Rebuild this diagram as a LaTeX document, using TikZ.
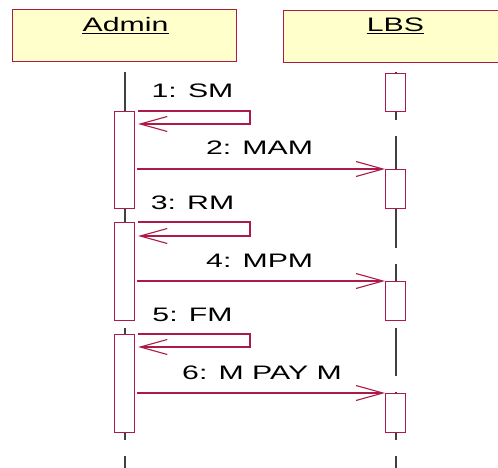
\documentclass[tikz,border=0pt]{standalone}
\usepackage{fontspec}
\setmainfont{Liberation Sans}
\usepackage{graphicx}
\usetikzlibrary{arrows.meta}
\definecolor{uml}{RGB}{172,26,72}
\definecolor{hdr}{RGB}{255,255,204}
\definecolor{life}{RGB}{64,64,64}
\newcommand\wtext[1]{\scalebox{1.55}[1]{#1}}
\begin{document}
\begin{tikzpicture}[x=1pt,y=-1pt,
  lbl/.style={font=\fontsize{19.5}{20}\selectfont, inner sep=0pt, anchor=base},
  hbox/.style={draw=uml, fill=hdr, line width=1.2pt, inner sep=0pt, anchor=north west},
  act/.style={draw=uml, fill=white, line width=1.2pt, inner sep=0pt, anchor=north west, minimum width=20pt},
  msg/.style={draw=uml, line width=1.1pt, -{Straight Barb[length=27pt,width=15pt,line width=1.1pt]}},
  lifeline/.style={draw=life, line width=1.3pt, dash pattern=on 48pt off 16pt},
  uline/.style={draw=black, line width=1pt}]
\useasboundingbox (0,0) rectangle (498,468);
\clip (0,0) rectangle (498,468);
% header boxes
\node[hbox, minimum width=224pt, minimum height=52pt] (admin) at (12,9) {};
\node[hbox, minimum width=222pt, minimum height=52pt] (lbs) at (283,10) {};
\node[lbl] (admint) at (125.5,32) {\wtext{Admin}};
\node[lbl] (lbst) at (395.5,32) {\wtext{LBS}};
\draw[uline] ([yshift=-1.6pt]admint.base west) -- ([yshift=-1.6pt]admint.base east);
\draw[uline] ([yshift=-1.6pt]lbst.base west) -- ([yshift=-1.6pt]lbst.base east);
% lifelines
\coordinate (adtop) at (125,72);
\coordinate (adbot) at (125,468);
\coordinate (lbtop) at (396,72);
\coordinate (lbbot) at (396,468);
\draw[lifeline] (adtop) -- (adbot);
\draw[lifeline] (lbtop) -- (lbbot);
% activation boxes
\node[act, minimum height=97pt] (a1) at (114,111) {};
\node[act, minimum height=98pt] (a2) at (114,222) {};
\node[act, minimum height=98pt] (a3) at (114,334) {};
\node[act, minimum height=38pt] (l1) at (385,73) {};
\node[act, minimum height=39pt] (l2) at (385,169) {};
\node[act, minimum height=39pt] (l3) at (385,281) {};
\node[act, minimum height=39pt] (l4) at (385,393) {};
% self messages
\coordinate (s1) at (250,124);
\coordinate (s2) at (250,236);
\coordinate (s3) at (250,347);
\draw[msg] ([xshift=3pt]a1.north east) -| (s1) -- ([xshift=3pt]a1.east |- s1);
\draw[msg] ([xshift=3pt]a2.north east) -| (s2) -- ([xshift=3pt]a2.east |- s2);
\draw[msg] ([xshift=3pt]a3.north east) -| (s3) -- ([xshift=3pt]a3.east |- s3);
% calls
\draw[msg] ([xshift=2pt]a1.east |- l2.north) -- (l2.north west);
\draw[msg] ([xshift=2pt]a2.east |- l3.north) -- (l3.north west);
\draw[msg] ([xshift=2pt]a3.east |- l4.north) -- (l4.north west);
% labels
\node[lbl] (m1) at (192.5,97.7) {\wtext{1: SM}};
\node[lbl] (m2) at (259.5,155) {\wtext{2: MAM}};
\node[lbl] (m3) at (192.5,209.3) {\wtext{3: RM}};
\node[lbl] (m4) at (259.7,267) {\wtext{4: MPM}};
\node[lbl] (m5) at (192.5,321) {\wtext{5: FM}};
\node[lbl] (m6) at (262,379) {\wtext{6: M PAY M}};
\end{tikzpicture}
\end{document}
